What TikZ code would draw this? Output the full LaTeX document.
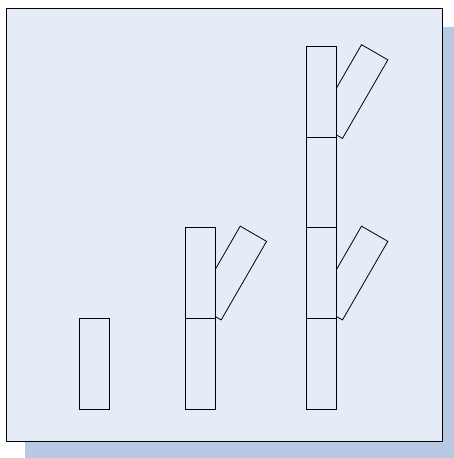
\documentclass[tikz,border=0pt]{standalone}
\usetikzlibrary{positioning, calc}
\definecolor{panelfill}{RGB}{230,236,247}
\definecolor{panelshadow}{RGB}{184,202,227}
\begin{document}
\begin{tikzpicture}[x=1pt, y=-1pt,
            block/.style={draw, fill=panelfill, rectangle, minimum width=30.4pt, minimum height=90.75pt, inner sep=0pt, outer sep=0pt, line width=0.8pt},
            branch/.style={block, rotate=-30}]
            \useasboundingbox (0,0) rectangle (454,458);
            % panel and its shadow
            \fill[panelshadow] (25,27) rectangle (454,458);
            \draw[fill=panelfill, line width=1.3pt] (6.3,8.3) rectangle (442.7,441.7);
            % first stage
            \node[block] (a1) at (94.2,363.8) {};
            % second stage
            \node[block] (b1) at (200.2,363.8) {};
            \node[branch] (b2r) at ([shift={(30.5,-90.75)}]b1.center) {};
            \node[block, above=0pt of b1] (b2) {};
            % third stage
            \node[block] (c1) at (321.5,363.8) {};
            \node[branch] (c2r) at ([shift={(30.5,-90.75)}]c1.center) {};
            \node[block, above=0pt of c1] (c2) {};
            \node[block, above=0pt of c2] (c3) {};
            \node[branch] (c4r) at ([shift={(30.5,-90.75)}]c3.center) {};
            \node[block, above=0pt of c3] (c4) {};
        \end{tikzpicture}
\end{document}
